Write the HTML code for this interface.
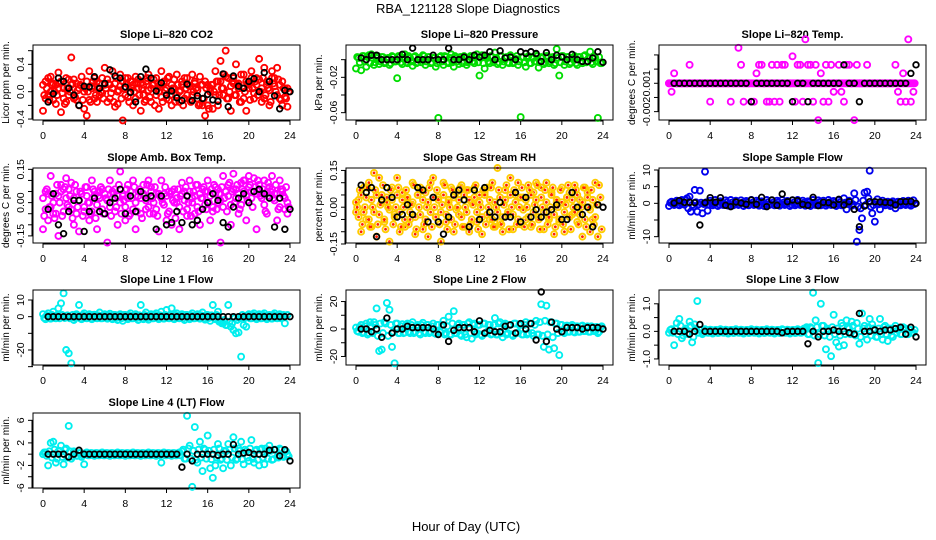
<!DOCTYPE html>
<html><head><meta charset="utf-8"><title>RBA_121128 Slope Diagnostics</title>
<style>
html,body{margin:0;padding:0;background:#fff;}
svg{display:block;font-family:"Liberation Sans",Arial,sans-serif;}
</style></head>
<body>
<svg id="chart" width="936" height="540" viewBox="0 0 936 540" xmlns="http://www.w3.org/2000/svg">
<rect x="0" y="0" width="936" height="540" fill="#fff"/>
<text x="468" y="13" font-size="13" text-anchor="middle">RBA_121128  Slope Diagnostics</text>
<text x="466" y="531" font-size="13" text-anchor="middle">Hour of Day (UTC)</text>
</svg>
<script>
// shared hour stamps
const hours = [0,0.25,0.5,0.75,1,1.25,1.5,1.75,2,2.25,2.5,2.75,3,3.25,3.5,3.75,4,4.25,4.5,4.75,5,5.25,5.5,5.75,6,6.25,6.5,6.75,7,7.25,7.5,7.75,8,8.25,8.5,8.75,9,9.25,9.5,9.75,10,10.25,10.5,10.75,11,11.25,11.5,11.75,12,12.25,12.5,12.75,13,13.25,13.5,13.75,14,14.25,14.5,14.75,15,15.25,15.5,15.75,16,16.25,16.5,16.75,17,17.25,17.5,17.75,18,18.25,18.5,18.75,19,19.25,19.5,19.75,20,20.25,20.5,20.75,21,21.25,21.5,21.75,22,22.25,22.5,22.75,23,23.25,23.5,23.75];
const hoursC = [0.12,0.37,0.62,0.87,1.12,1.37,1.62,1.87,2.12,2.37,2.62,2.87,3.12,3.37,3.62,3.87,4.12,4.37,4.62,4.87,5.12,5.37,5.62,5.87,6.12,6.37,6.62,6.87,7.12,7.37,7.62,7.87,8.12,8.37,8.62,8.87,9.12,9.37,9.62,9.87,10.12,10.37,10.62,10.87,11.12,11.37,11.62,11.87,12.12,12.37,12.62,12.87,13.12,13.37,13.62,13.87,14.12,14.37,14.62,14.87,15.12,15.37,15.62,15.87,16.12,16.37,16.62,16.87,17.12,17.37,17.62,17.87,18.12,18.37,18.62,18.87,19.12,19.37,19.62,19.87,20.12,20.37,20.62,20.87,21.12,21.37,21.62,21.87,22.12,22.37,22.62,22.87,23.12,23.37,23.62,23.87];
const hoursB = [0.5,1,1.5,2,2.5,3,3.5,4,4.5,5,5.5,6,6.5,7,7.5,8,8.5,9,9.5,10,10.5,11,11.5,12,12.5,13,13.5,14,14.5,15,15.5,16,16.5,17,17.5,18,18.5,19,19.5,20,20.5,21,21.5,22,22.5,23,23.5,24];
const xTicks = [0,4,8,12,16,20,24];

// CO2
const co2A = [-0.28,0.15,-0.05,0.22,-0.12,0.1,0.28,-0.3,0.05,-0.15,0.18,0.5,-0.1,0.12,-0.2,0.08,-0.25,-0.35,0.3,0.05,-0.1,0.15,-0.05,0.2,0.35,-0.15,0.1,0.3,-0.22,0.0,0.25,-0.42,0.2,-0.08,0.15,-0.2,0.22,0.05,-0.28,0.1,-0.12,0.25,0.05,0.18,-0.05,-0.25,0.3,0.12,-0.1,0.22,-0.2,0.05,0.25,-0.15,0.1,0.2,-0.05,-0.12,0.25,0.15,-0.1,0.22,-0.2,-0.35,0.1,0.05,-0.25,0.3,0.15,0.45,-0.05,0.6,0.2,-0.28,0.12,0.4,0.05,-0.15,0.25,-0.28,0.1,0.3,-0.1,0.2,0.48,-0.15,0.35,0.1,-0.2,0.3,0.2,0.35,-0.1,-0.2,0.05,-0.22];
const co2B = [0.1,-0.1,0.2,0.0,0.12,-0.18,0.05,0.15,-0.1,0.2,-0.05,0.1,0.18,-0.12,0.05,0.22,0.0,0.15,-0.12,0.08,0.2,-0.15,0.12,-0.02,0.1,0.18,-0.1,0.05,0.12,-0.18,0.08,0.15,-0.05,0.2,0.0,0.1,-0.1,0.18,0.12,-0.05,0.15,0.02,-0.15,0.1,0.2,0.0,-0.08,0.15,0.05,-0.12,0.1,0.18,-0.05,0.0,0.15,-0.1,0.2,0.08,-0.05,0.12,0.02,-0.18,0.1,0.15,-0.2,0.0,0.1,-0.05,-0.2,0.15,0.05,0.22,-0.1,0.08,0.2,-0.05,0.12,0.25,-0.1,0.15,0.05,0.2,-0.02,0.1,0.18,0.05,-0.1,0.15,0.02,0.2,0.08,-0.05,0.1,0.15,-0.08,0.05];
const co2C = [-0.05,0.05,-0.12,0.1,0.0,-0.05,0.12,-0.02,-0.18,0.05,0.0,0.12,-0.08,0.02,0.1,-0.12,0.05,0.0,-0.15,0.15,-0.05,0.05,0.0,-0.1,0.05,0.12,-0.02,-0.15,0.2,0.02,-0.1,0.05,0.12,-0.15,0.05,0.0,0.12,-0.05,0.05,-0.15,0.2,-0.08,0.1,-0.2,0.05,0.1,-0.15,0.02,0.2,-0.05,0.05,-0.15,0.1,0.02,-0.2,0.05,0.1,-0.15,0.0,0.05,-0.2,0.1,-0.1,0.05,-0.25,0.1,0.0,0.15,-0.05,0.05,0.25,-0.1,0.0,0.15,-0.05,0.1,-0.15,0.05,0.0,0.12,-0.12,0.05,0.15,-0.05,0.0,0.2,-0.05,0.05,-0.15,0.12,0.0,0.18,-0.12,0.05,-0.1,0.0];
const co2K = [-0.15,-0.03,0.2,0.15,0.05,-0.05,-0.2,0.08,0.07,0.22,0.05,0.12,0.32,0.23,0.2,0.07,-0.01,-0.15,0.22,0.33,0.2,0.01,0.13,-0.05,0.01,-0.09,-0.13,0.11,-0.13,-0.06,-0.1,-0.04,-0.12,-0.14,0.26,-0.22,0.23,0.08,0.05,0.15,0.19,0.0,0.28,0.15,-0.06,-0.25,0.02,0.0];

// Pressure
const presA = [-0.01,0.002,-0.012,0.004,-0.008,0.005,0.006,-0.006,0.002,-0.005,0.003,-0.004,0.001,-0.006,0.004,-0.002,-0.021,0.003,-0.005,0.006,-0.004,0.002,-0.007,0.004,-0.003,0.001,0.005,-0.006,0.003,-0.004,0.002,-0.008,-0.066,0.004,-0.006,0.003,-0.004,0.006,-0.008,0.002,-0.005,0.003,0.004,-0.006,-0.002,0.003,-0.004,0.006,-0.018,0.005,-0.01,0.002,-0.004,0.003,0.008,-0.005,0.004,-0.006,0.002,-0.003,0.005,-0.004,0.001,-0.006,-0.065,0.003,-0.008,0.004,-0.004,0.002,0.006,-0.009,0.003,-0.005,0.004,-0.004,0.002,-0.006,0.012,-0.018,0.004,-0.006,0.003,-0.005,0.002,0.004,-0.006,0.003,-0.004,0.005,-0.002,0.009,-0.005,0.002,-0.066,-0.004];
const presB = [0.003,-0.003,0.004,-0.002,0.003,-0.004,0.002,-0.003,0.004,-0.002,0.003,-0.003,0.002,-0.004,0.003,-0.002,0.004,-0.003,0.002,-0.003,0.004,-0.002,0.003,-0.004,0.002,-0.003,0.004,-0.002,0.003,-0.003,0.002,-0.004,0.003,-0.002,0.004,-0.003,0.002,-0.003,0.004,-0.002,0.003,-0.004,0.002,-0.003,0.004,-0.002,0.003,-0.003,0.002,-0.004,0.003,-0.002,0.004,-0.003,0.002,-0.003,0.004,-0.002,0.003,-0.004,0.002,-0.003,0.004,-0.002,0.003,-0.003,0.002,-0.004,0.003,-0.002,0.004,-0.003,0.002,-0.003,0.004,-0.002,0.003,-0.004,0.002,-0.003,0.004,-0.002,0.003,-0.003,0.002,-0.004,0.003,-0.002,0.004,-0.003,0.002,-0.003,0.004,-0.002,0.003,-0.004];
const presK = [0.002,0.0,0.005,0.005,0.0,0.0,0.0,0.0,0.006,0.0,0.013,0.0,0.0,0.0,0.005,0.0,0.0,0.013,0.0,0.0,0.003,0.0,0.005,0.003,0.005,0.009,0.0,0.01,0.002,0.003,0.0,0.009,0.007,0.009,0.007,-0.002,0.008,0.0,0.005,0.003,0.0,0.006,0.0,-0.002,-0.002,0.002,0.009,-0.003];

// Li-820 Temp
const tempA = [0,0,0,0,0,0,0,0,0,0,0,0,0,0,0,0,0,0,0,0,0,0,0,0,0,0,0,0,0,0,0,0,0,0,0,0,0,0,0,0,0,0,0,0,0,0,0,0,0,0,0,0,0,0,0,0,0,0,0,0,0,0,0,0,0,0,0,0,0,0,0,0,0,0,0,0,0,0,0,0,0,0,0,0,0,0,0,0,0,0,0,0,0,0,0,0];
const tempB = [0,-0.0006,0.0007,0,0,0,0,0,0.0013,0,0,0,0,0,0,0,-0.0013,0,0,0,0,0,0,0,-0.0013,0,0,0.0025,0.0013,-0.0013,0,0,-0.0013,-0.0013,0.0007,0.0013,0.0013,0,-0.0013,-0.0013,0.0013,-0.0013,0.0013,-0.0013,0.0013,0.0013,0,0,0.0019,-0.0013,0.0013,0.0013,-0.0013,0.0031,0.0013,0.0013,-0.0013,0.0013,-0.0026,0.0007,-0.0013,0.0013,-0.0013,0.0013,-0.0006,0,0.0013,-0.0006,-0.0013,0.0013,0.0013,0,-0.0026,0.0013,0,0,0,0.0013,0,0,0,0,0,0,0,0,0,0,0.0013,-0.0006,-0.0013,0.0007,-0.0013,0.0031,-0.0013,-0.0006];
const tempK = [0,0,0,0,0,0,0,0,0,0,0,0,0,0,0,-0.0013,0,0,0,0,0,0,0,-0.0013,0,0,-0.0013,0,0,0,0,0,0,0.0013,0,0,-0.0013,0,0,0,0,0,0,0,0,0,0.0007,0.0013];

// Amb box temp
const ambA = [-0.12,0.05,-0.08,0.12,-0.05,0.04,-0.15,0.08,0.06,0.11,-0.02,0.09,-0.1,0.05,-0.13,0.04,-0.04,0.07,-0.08,0.1,0.03,-0.12,0.05,0.06,-0.05,-0.18,0.1,0.02,0.06,-0.1,0.14,0.03,-0.08,0.08,-0.05,0.1,-0.12,0.05,0.02,0.08,-0.03,0.1,0.07,-0.05,0.04,-0.13,0.1,0.04,-0.08,0.05,-0.1,0.06,0.0,-0.12,0.09,0.05,-0.06,0.1,0.02,-0.05,0.08,-0.1,0.06,0.05,0.1,-0.08,-0.04,0.07,0.0,-0.18,0.12,0.05,0.08,-0.1,0.13,0.06,-0.05,0.09,0.1,-0.08,0.12,0.05,0.11,-0.12,0.08,0.04,0.1,-0.05,0.07,0.12,0.04,-0.08,0.1,0.06,-0.03,-0.05];
const ambB = [0.02,-0.03,0.04,-0.02,0.0,-0.05,0.03,0.05,-0.04,0.02,0.06,-0.03,0.02,-0.05,0.01,0.04,-0.02,0.03,0.0,-0.04,0.05,-0.01,0.02,-0.03,0.04,0.01,-0.02,0.05,-0.04,0.03,0.0,0.04,-0.02,0.02,0.05,-0.03,0.0,0.03,-0.05,0.04,0.01,-0.02,0.05,0.0,-0.03,0.04,0.02,-0.01,0.03,-0.04,0.05,0.0,0.02,-0.02,0.04,0.01,-0.03,0.05,0.0,0.03,-0.02,0.04,0.02,-0.01,0.05,0.03,-0.02,0.04,0.06,0.01,-0.02,0.05,0.03,-0.01,0.06,0.02,0.04,-0.01,0.05,0.03,0.07,0.02,0.05,0.04,0.06,0.02,-0.01,0.05,0.03,0.06,0.01,0.04,-0.02,0.05,0.02,0.0];
const ambC = [-0.06,0.06,-0.02,0.03,-0.07,0.08,0.0,-0.06,0.07,-0.01,0.03,-0.07,0.08,-0.02,0.05,-0.06,0.07,0.0,-0.05,0.06,-0.07,0.03,0.07,-0.05,0.02,0.06,-0.06,0.04,-0.02,0.08,-0.05,0.01,0.06,-0.06,0.02,0.07,-0.04,0.06,-0.07,0.03,0.08,-0.05,0.02,0.07,-0.06,0.03,0.0,0.07,-0.05,0.04,0.01,-0.07,0.06,0.03,-0.04,0.07,0.0,-0.06,0.05,0.08,-0.04,0.02,0.07,-0.03,0.0,0.06,0.08,-0.03,0.04,0.07,0.02,-0.04,0.09,0.05,0.0,0.08,-0.03,0.06,0.1,0.01,0.08,-0.02,0.07,0.1,0.03,0.06,-0.04,0.09,0.05,0.02,0.08,-0.03,0.06,0.03,0.07,-0.02];
const ambK = [-0.03,0.04,-0.1,-0.14,-0.04,0.01,0.01,-0.13,-0.04,0.02,-0.04,-0.05,0.0,0.02,0.06,-0.05,0.03,-0.04,0.05,0.02,0.03,-0.12,0.03,-0.1,-0.09,-0.04,-0.09,0.03,-0.1,-0.08,-0.03,0.0,0.04,0.01,-0.09,-0.11,-0.02,0.02,0.04,0.0,0.05,0.06,0.04,0.02,-0.11,0.02,-0.12,-0.03];

// Gas stream RH
const rhA = [-0.02,0.03,-0.1,0.08,-0.05,0.1,-0.08,0.14,-0.12,0.12,0.05,-0.06,0.02,-0.14,0.08,-0.03,0.12,-0.1,0.06,-0.08,0.03,-0.05,0.1,-0.11,0.05,0.08,-0.09,0.06,-0.12,0.1,0.12,-0.04,0.04,-0.14,0.1,-0.06,0.03,0.08,-0.1,0.06,-0.03,0.09,-0.08,0.07,-0.1,0.02,0.08,-0.06,0.05,-0.11,0.06,0.08,-0.05,0.1,-0.08,0.16,-0.06,-0.1,0.07,-0.03,0.12,-0.09,0.05,0.1,-0.07,0.04,-0.05,0.09,-0.08,0.06,0.1,-0.04,0.08,-0.09,0.1,-0.05,0.06,-0.11,0.02,-0.06,0.08,-0.1,0.04,0.06,-0.03,0.09,-0.06,0.03,-0.12,0.08,0.06,-0.1,-0.05,0.1,-0.12,0.04];
const rhB = [0.02,-0.04,0.05,-0.02,0.04,-0.05,0.03,-0.02,0.05,-0.03,0.02,-0.05,0.04,-0.01,0.03,-0.04,0.05,-0.02,0.03,-0.05,0.04,-0.02,0.02,-0.04,0.05,-0.03,0.03,-0.05,0.02,-0.02,0.04,-0.04,0.03,-0.02,0.05,-0.03,0.02,-0.05,0.04,-0.01,0.03,-0.04,0.05,-0.02,0.03,-0.05,0.04,-0.02,0.02,-0.04,0.05,-0.03,0.03,-0.05,0.02,-0.02,0.04,-0.04,0.03,-0.02,0.05,-0.03,0.02,-0.05,0.04,-0.01,0.03,-0.04,0.05,-0.02,0.03,-0.05,0.04,-0.02,0.02,-0.04,0.05,-0.03,0.03,-0.05,0.02,-0.02,0.04,-0.04,0.03,-0.02,0.05,-0.03,0.02,-0.05,0.04,-0.01,0.03,-0.04];
const rhC = [0.0,0.07,-0.07,0.0,0.08,-0.08,0.0,0.07,-0.07,0.01,0.09,-0.09,0.0,0.07,-0.07,0.0,0.08,-0.08,0.0,0.07,-0.07,0.01,0.09,-0.09,0.0,0.07,-0.07,0.0,0.08,-0.08,0.0,0.07,-0.07,0.01,0.09,-0.09,0.0,0.07,-0.07,0.0,0.08,-0.08,0.0,0.07,-0.07,0.01,0.09,-0.09,0.0,0.07,-0.07,0.0,0.08,-0.08,0.0,0.07,-0.07,0.01,0.09,-0.09,0.0,0.07,-0.07,0.0,0.08,-0.08,0.0,0.07,-0.07,0.01,0.09,-0.09,0.0,0.07,-0.07,0.0,0.08,-0.08,0.0,0.07,-0.07,0.01,0.09,-0.09,0.0,0.07,-0.07,0.0,0.08,-0.08,0.0,0.07,-0.07,0.01,0.09,-0.09];
const rhK = [0.09,0.06,0.08,-0.12,0.03,0.08,0.04,-0.04,-0.03,0.01,-0.03,0.08,0.07,-0.06,0.04,-0.06,-0.11,-0.04,0.05,0.07,0.03,-0.08,0.07,-0.05,0.08,-0.02,-0.04,0.02,-0.04,-0.04,0.06,-0.06,0.04,-0.04,-0.01,-0.04,-0.02,-0.01,0.01,-0.05,-0.05,0.06,0.0,-0.03,0.0,-0.08,0.01,0.0];

// Sample flow
const sampA = [-0.8,0.5,-0.5,0.8,-0.6,1.0,-0.4,1.5,2.0,-0.5,4.0,-2.5,3.8,-3.0,9.5,-2.2,0.8,-0.6,1.0,-0.8,0.6,-0.5,0.9,-0.7,1.0,-0.6,0.8,-0.5,0.9,-0.8,0.7,-0.6,1.0,-0.5,0.8,-0.7,0.6,-0.8,1.0,-0.5,0.9,-0.6,0.8,-0.7,1.0,-0.5,0.7,-0.8,0.9,-0.6,1.0,-0.5,0.8,-0.7,0.6,-0.8,1.0,-0.5,0.9,-0.6,0.8,-0.7,1.0,-0.5,0.7,-0.8,0.9,-0.6,1.5,-1.8,0.8,-0.7,3.0,-11.5,-8.0,-4.5,3.2,3.5,9.8,-3.0,-5.5,1.2,-1.8,0.8,-0.6,0.5,-0.8,0.6,-1.5,0.5,-0.6,0.7,-0.5,0.8,-0.7,0.9];
const sampC = [0.2,-0.2,0.3,-0.3,0.2,-0.2,1.0,-1.5,-2.5,-1.0,0.3,-0.3,0.2,-0.2,0.3,-0.3,0.2,-0.2,0.3,-0.3,0.2,-0.2,0.3,-0.3,0.2,-0.2,0.3,-0.3,0.2,-0.2,0.3,-0.3,0.2,-0.2,0.3,-0.3,0.2,-0.2,0.3,-0.3,0.2,-0.2,0.3,-0.3,0.2,-0.2,0.3,-0.3,0.2,-0.2,0.3,-0.3,0.2,-0.2,0.3,-0.3,0.2,-0.2,0.3,-0.3,0.2,-0.2,0.3,-0.3,0.2,-0.2,0.3,-0.3,0.2,-0.2,0.3,-0.3,1.0,-1.0,-1.5,0.8,-0.5,1.5,-1.0,-0.5,0.3,-0.3,0.2,-0.2,0.3,-0.3,0.2,-0.2,0.3,-0.3,0.2,-0.2,0.3,-0.3,0.2,-0.2];
const sampK = [0.1,0.8,0.3,0.3,0.2,-6.5,0.2,1.7,0.3,1.7,-0.6,-1.0,0.4,0.1,-0.3,1.0,-0.3,1.8,-1.0,1.0,-0.6,2.8,0.5,1.0,0.8,-0.3,-0.6,1.8,-0.7,0.3,0.2,-0.5,1.2,-0.5,0.5,-1.8,-7.0,-0.8,0.5,0.5,0.4,0.3,0.2,-0.5,0.5,0.5,0.6,0.0];

// Line 1 flow
const l1A = [1.5,-1.5,2.0,-1.2,3.0,-1.0,5.0,8.0,14.0,-20.0,-22.0,-28.0,-2.0,1.5,7.0,-1.5,2.0,-1.0,1.5,-1.5,1.2,-1.0,2.5,-1.0,1.5,-1.2,1.8,-1.5,1.0,-2.0,1.5,-2.5,1.0,-1.5,2.0,-1.0,1.5,-2.0,7.0,-1.5,2.5,-1.8,1.5,-1.0,2.0,-1.5,3.0,-1.2,4.0,-1.0,5.0,-1.5,2.0,-1.0,1.5,-2.0,1.0,-1.5,2.0,-1.0,1.5,-1.2,2.5,-1.8,1.0,-2.5,7.0,-1.5,3.0,-3.0,-4.0,-5.0,7.0,-6.0,-8.0,-10.0,-9.5,-24.0,-5.0,-6.0,1.5,-1.0,2.0,-1.5,1.5,-1.0,2.0,-1.5,1.0,-1.2,2.0,-1.0,1.5,-0.5,-4.0,1.0];
const l1C = [-0.8,0.8,-1,1,-0.8,0.8,-1,1,-0.8,0.8,-1,1,-0.8,0.8,-1,1,-0.8,0.8,-1,1,-0.8,0.8,-1,1,-0.8,0.8,-1,1,-0.8,0.8,-1,1,-0.8,0.8,-1,1,-0.8,0.8,-1,1,-0.8,0.8,-1,1,-0.8,0.8,-1,1,-0.8,0.8,-1,1,-0.8,0.8,-1,1,-0.8,0.8,-1,1,-0.8,0.8,-1,1,-0.8,0.8,-1,1,-3,-4,-2,-5,-3,-4,-1,-2,-1,1,-0.8,0.8,-1,1,-0.8,0.8,-1,1,-0.8,0.8,-1,1,-0.8,0.8,-1,1];
const l1K = [0,0,0,0,0,0,0,0,0,0,0,0,0,0,0,0,0,0,0,0,0,0,0,0,0,0,0,0,0,0,0,0,0,0,0,0,0,0,0,0,0,0,0,0,0,0,0,0];

// Line 2 flow
const l2A = [1.0,-2.0,3.0,-2.5,4.0,-3.0,2.0,5.0,15.0,-16.0,-15.0,5.0,19.0,14.0,-13.0,-25.0,4.0,-3.0,3.5,-2.5,4.0,-3.0,5.0,-2.0,3.0,-4.0,4.5,-3.0,3.0,-2.0,4.0,-3.5,3.0,-2.5,6.0,-3.0,9.0,-4.0,13.0,-3.0,4.0,-5.0,3.0,-6.0,5.0,-7.0,4.0,-3.0,3.0,-5.0,4.0,-2.0,3.0,-3.5,8.0,-4.0,5.0,-6.0,4.0,-3.0,3.0,-5.0,4.0,-2.5,3.0,-4.0,5.0,-3.0,4.0,-5.0,6.0,-4.0,18.0,-13.0,17.0,-15.0,5.0,-14.0,4.0,-19.0,3.0,-3.0,2.5,-2.0,3.0,-2.5,2.0,-2.0,2.5,-1.5,2.0,-2.0,1.5,-1.5,-3.0,1.0];
const l2C = [-1.5,1.5,-3,2,-4,5,-3,3,-5,4,-3,4,-5,3,-2,4,-3,2,-3,3,-2,3,-3,2,-3,3,-2,3,-3,2,-3,3,-2,3,-4,2,-4,4,-3,3,-4,3,-4,4,-3,3,-4,3,-4,4,-3,3,-4,3,-4,4,-3,3,-4,3,-4,4,-3,3,-4,3,-4,4,-3,3,-4,5,-5,6,-4,5,-6,4,-3,3,-2,2,-2,2,-2,2,-2,2,-1.5,1.5,-2,2,-1.5,1.5,-2,2];
const l2K = [0,0,-2,0,-6,8,-3,0,0,2,1,1,1,1,0,-4,3,-9,-1,1,1,1,-2,6,-3,-1,-2,-2,2,3,-3,4,0,4,-8,27,-9,5,0,-2,1,1,1,0,1,1,1,0];

// Line 3 flow
const l3A = [-0.05,0.08,-0.5,0.3,0.45,-0.25,0.05,-0.08,0.35,-0.4,0.25,1.1,0.05,-0.1,0.08,-0.05,0.06,-0.08,0.05,-0.06,0.08,-0.05,0.06,-0.08,0.05,-0.06,0.08,-0.05,0.06,-0.08,0.05,-0.06,0.08,-0.05,0.06,-0.08,0.05,-0.06,0.08,-0.05,0.06,-0.08,0.05,-0.06,0.08,-0.05,0.06,-0.08,0.05,-0.06,0.08,-0.05,0.06,0.1,-0.1,0.15,1.4,0.4,-1.15,1.0,0.2,-0.65,0.05,-0.9,0.6,-0.4,-0.55,0.3,-0.5,0.4,0.1,0.35,-0.1,0.3,-0.45,0.65,0.2,-0.3,0.45,0.25,0.05,-0.2,0.45,-0.3,0.2,-0.35,0.1,-0.2,0.2,0.05,-0.1,0.15,0.1,-0.1,0.05,-0.05];
const l3C = [0.05,-0.05,0.1,-0.1,0.2,-0.15,0.1,-0.1,0.2,-0.2,0.1,-0.05,0.05,-0.05,0.05,-0.05,0.05,-0.05,0.05,-0.05,0.05,-0.05,0.05,-0.05,0.05,-0.05,0.05,-0.05,0.05,-0.05,0.05,-0.05,0.05,-0.05,0.05,-0.05,0.05,-0.05,0.05,-0.05,0.05,-0.05,0.05,-0.05,0.05,-0.05,0.05,-0.05,0.05,-0.05,0.05,-0.05,0.1,0.15,-0.1,0.1,-0.15,0.15,-0.1,0.2,-0.15,0.1,-0.2,0.15,-0.1,0.1,-0.15,0.2,-0.1,0.15,-0.1,0.2,-0.15,0.1,-0.2,0.1,-0.1,0.15,-0.15,0.1,-0.2,0.1,-0.1,0.15,-0.1,0.1,-0.15,0.1,-0.05,0.1,-0.1,0.05,-0.1,0.05,-0.05,0.05];
const l3K = [0,0,0,-0.1,0,0.25,0,0,0,0,0,0,0,0,0,0,0,0,0,0,0,-0.05,0,0,0,0,-0.45,0,-0.2,0,0,0.05,0,0,-0.05,-0.1,0.65,0,0,0.05,0,0.05,0.05,0.1,0.15,-0.1,0.15,-0.2];

// Line 4 (LT) flow
const l4A = [0.0,0.3,-2.0,2.0,2.2,-1.5,0.5,1.5,-1.8,1.0,5.0,-0.8,0.5,-0.3,0.2,-0.5,-1.8,0.3,-0.2,0.2,-0.3,0.2,-0.2,0.3,-0.2,0.2,-0.3,0.2,-0.2,0.3,-0.2,0.2,-0.3,0.2,-0.2,0.3,-0.2,0.2,-0.3,0.2,-0.2,0.3,-0.2,0.2,-0.3,0.2,-1.5,0.3,-0.2,0.2,-0.3,0.2,-0.2,0.3,0.5,-0.8,6.8,1.5,-5.8,4.8,-1.5,2.2,-3.0,0.8,3.3,-2.5,-4.2,-2.0,1.8,-1.0,-2.5,0.5,1.8,-2.0,3.0,-1.0,1.0,2.2,-1.8,0.5,-1.2,2.5,-1.5,0.8,-2.0,1.0,-1.8,0.5,1.5,-1.0,0.8,-0.5,1.0,-0.3,0.5,0.0];
const l4C = [0.3,-0.3,0.5,-0.6,0.8,-0.8,0.6,-0.5,0.8,-0.6,0.5,-0.4,0.3,-0.3,0.2,-0.2,0.2,-0.2,0.2,-0.2,0.2,-0.2,0.2,-0.2,0.2,-0.2,0.2,-0.2,0.2,-0.2,0.2,-0.2,0.2,-0.2,0.2,-0.2,0.2,-0.2,0.2,-0.2,0.2,-0.2,0.2,-0.2,0.2,-0.2,0.2,-0.2,0.2,-0.2,0.2,-0.2,0.2,-0.2,0.8,-0.8,1.0,-0.8,0.6,-1.0,0.8,-0.6,1.0,-0.8,0.6,-0.9,0.8,-0.6,1.0,-0.8,0.6,-1.0,0.8,-0.6,1.0,-0.8,0.6,-0.9,0.8,-0.6,1.0,-0.8,0.6,-1.0,0.8,-0.6,1.0,-0.8,0.6,-0.9,0.8,-0.6,0.8,-0.5,0.5,-0.4];
const l4K = [0,0,0,0,-0.5,0,0.7,0,0,0,0,0,0,0,0,0,0,0,0,0,0,0,0,0,0,0,-2.3,0,-1.2,0,0,0,0,-0.2,0,0,1.7,0,0.2,0.3,0,0,0,0.7,0.8,-0.3,0.8,-1.2];

const panels = [
 {name:'co2',title:'Slope Li\u2013820 CO2',ylab:'Licor ppm per min.',col:0,row:0,ymin:-0.414,ymax:0.683,ticks:[-0.4,-0.2,0,0.2,0.4,0.6],labels:['-0.4','','0.0','','0.4',''],color:'#ff0000',series:[co2A,co2B],extra:co2C,black:co2K},
 {name:'pressure',title:'Slope Li\u2013820 Pressure',ylab:'kPa per min.',col:1,row:0,ymin:-0.0683,ymax:0.0166,ticks:[-0.06,-0.04,-0.02,0],labels:['-0.06','','-0.02',''],color:'#00dd00',series:[presA],extra:presB,black:presK},
 {name:'li820-temp',title:'Slope Li\u2013820 Temp.',ylab:'degrees C per min.',col:2,row:0,ymin:-0.00259,ymax:0.0027,ticks:[-0.002,-0.001,0,0.001,0.002],labels:['-0.002','','0.001','',''],color:'#ff00ff',series:[tempA,tempB],extra:tempA,black:tempK},
 {name:'amb-box-temp',title:'Slope Amb. Box Temp.',ylab:'degrees C per min.',col:0,row:1,ymin:-0.182,ymax:0.156,ticks:[-0.15,-0.1,-0.05,0,0.05,0.1,0.15],labels:['-0.15','','','0.00','','','0.15'],color:'#ff00ff',series:[ambA,ambB],extra:ambC,black:ambK},
 {name:'gas-stream-rh',title:'Slope Gas Stream RH',ylab:'percent per min.',col:1,row:1,ymin:-0.146,ymax:0.16,ticks:[-0.15,-0.1,-0.05,0,0.05,0.1,0.15],labels:['-0.15','','','0.00','','','0.15'],color:'#ffcc00',dot:'#ff2000',series:[rhA,rhB],extra:rhC,black:rhK},
 {name:'sample-flow',title:'Slope Sample Flow',ylab:'ml/min per min.',col:2,row:1,ymin:-11.9,ymax:10.6,ticks:[-10,-5,0,5,10],labels:['-10','','0','5','10'],color:'#0000ee',series:[sampA],extra:sampC,black:sampK},
 {name:'line1-flow',title:'Slope Line 1 Flow',ylab:'ml/min per min.',col:0,row:2,ymin:-29,ymax:16,ticks:[-30,-20,-10,0,10],labels:['','-20','','0','10'],color:'#00eeee',series:[l1A],extra:l1C,black:l1K},
 {name:'line2-flow',title:'Slope Line 2 Flow',ylab:'ml/min per min.',col:1,row:2,ymin:-26.2,ymax:28.4,ticks:[-20,-10,0,10,20],labels:['-20','','0','','20'],color:'#00eeee',series:[l2A],extra:l2C,black:l2K},
 {name:'line3-flow',title:'Slope Line 3 Flow',ylab:'ml/min per min.',col:2,row:2,ymin:-1.22,ymax:1.5,ticks:[-1,-0.5,0,0.5,1],labels:['-1.0','','0.0','','1.0'],color:'#00eeee',series:[l3A],extra:l3C,black:l3K},
 {name:'line4-flow',title:'Slope Line 4 (LT) Flow',ylab:'ml/min per min.',col:0,row:3,ymin:-6.0,ymax:7.3,ticks:[-6,-4,-2,0,2,4,6],labels:['-6','','-2','','2','','6'],color:'#00eeee',series:[l4A],extra:l4C,black:l4K}
];

const NS='http://www.w3.org/2000/svg';
const svg=document.getElementById('chart');
function mk(tag,attrs,parent){const e=document.createElementNS(NS,tag);for(const k in attrs)e.setAttribute(k,attrs[k]);(parent||svg).appendChild(e);return e;}

panels.forEach(p=>{
  const left=33+p.col*313, width=267;
  const top=45+Math.round(p.row*122.7), height=75, bottom=top+height;
  const xS=h=>43+p.col*313+h/24*247;
  const yS=v=>top+(p.ymax-v)/(p.ymax-p.ymin)*height;
  const g=mk('g',{});
  
  
  const t=mk('text',{x:left+width/2,y:top-7,'font-size':11,'font-weight':'bold','text-anchor':'middle'},g);
  t.textContent=p.title;
  
  
  const yl=mk('text',{x:0,y:0,'font-size':10,'text-anchor':'middle',transform:`translate(${left-24},${top+height/2}) rotate(-90)`},g);
  yl.textContent=p.ylab;
  
  
  const xa=mk('g',{},g);
  
  
  mk('line',{x1:xS(0),x2:xS(24),y1:bottom+1,y2:bottom+1,stroke:'#000','stroke-width':1},xa);
  xTicks.forEach(v=>{
    mk('line',{x1:xS(v),x2:xS(v),y1:bottom,y2:bottom+5,stroke:'#000','stroke-width':1},xa);
    const tl=mk('text',{x:xS(v),y:bottom+19,'font-size':10.5,'text-anchor':'middle'},xa);
    tl.textContent=v;
    
    
  });
  const ya=mk('g',{},g);
  
  
  mk('line',{x1:left-1,x2:left-1,y1:yS(p.ticks[0]),y2:yS(p.ticks[p.ticks.length-1]),stroke:'#000','stroke-width':1},ya);
  p.ticks.forEach((v,i)=>{
    const y=yS(v);
    mk('line',{x1:left-5,x2:left,y1:y,y2:y,stroke:'#000','stroke-width':1},ya);
    if(p.labels[i]){
      const tl=mk('text',{x:0,y:0,'font-size':10.5,'text-anchor':'middle',transform:`translate(${left-9},${y}) rotate(-90)`},ya);
      tl.textContent=p.labels[i];
      
      
    }
  });
  const pg=mk('g',{},g);
  
  
  function drawPt(h,v,color){
    const c=mk('circle',{cx:xS(h),cy:yS(v),r:3,fill:'none',stroke:color,'stroke-width':1.9},pg);
    
    
    if(p.dot){mk('circle',{cx:xS(h),cy:yS(v),r:1.4,fill:p.dot},pg);}
  }
  p.series.forEach(arr=>{
    arr.forEach((v,i)=>{ if(i<hours.length) drawPt(hours[i],v,p.color); });
  });
  p.extra.forEach((v,i)=>{ if(i<hoursC.length) drawPt(hoursC[i],v,p.color); });
  p.black.forEach((v,i)=>{
    if(i>=hoursB.length)return;
    const c=mk('circle',{cx:xS(hoursB[i]),cy:yS(v),r:2.8,fill:'none',stroke:'#000','stroke-width':1.8},pg);
    
    
  });
  const box=mk('rect',{x:left,y:top,width:width,height:height,fill:'none',stroke:'#000','stroke-width':1},g);
  
  
});
</script>
</body></html>
